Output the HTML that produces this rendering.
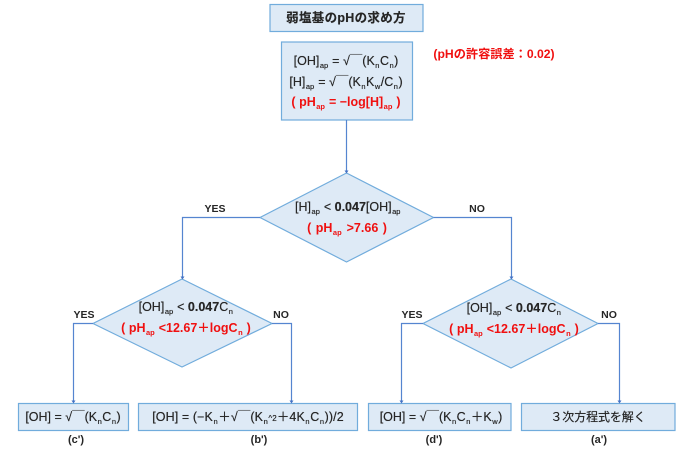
<!DOCTYPE html>
<html><head><meta charset="utf-8"><style>
html,body{margin:0;padding:0;background:#fff}
#p{position:relative;width:687px;height:453px;overflow:hidden;font-family:"Liberation Sans","Noto Sans CJK JP",sans-serif;color:#262626}
svg{position:absolute;left:0;top:0}
.t{position:absolute;white-space:nowrap;transform:translateX(-50%);font-size:12.5px;line-height:16px;text-shadow:0 0 .4px #333}
.r{color:#f01010;font-weight:bold;text-shadow:none}
.b{font-weight:bold;font-size:10.5px;text-shadow:none}
.l{font-size:11px}
i{font-style:normal;font-size:7.5px;position:relative;top:3px;margin:0 .5px}
</style></head><body><div id="p">
<svg width="687" height="453" viewBox="0 0 687 453">
<g fill="#deeaf6" stroke="#71acdc" stroke-width="1.2">
<rect x="270" y="4.5" width="153" height="27"/>
<rect x="281.5" y="42" width="131" height="78"/>
<polygon points="346.5,173 433.5,217.5 346.5,262 260,217.5"/>
<polygon points="182,279 272,323.5 182,367 93,323.5"/>
<polygon points="511,279 598,323.5 511,368 423,323.5"/>
<rect x="18.5" y="403.5" width="110" height="27"/>
<rect x="138.5" y="403.5" width="219" height="27"/>
<rect x="368.5" y="403.5" width="142.500" height="27"/>
<rect x="521.500" y="403.500" width="153.500" height="27"/>
</g>
<g fill="none" stroke="#5585d0" stroke-width="1.2">
<path d="M346.500 120V172"/>
<path d="M260 217.500H182.500V278"/>
<path d="M433.500 217.500H511.500V278"/>
<path d="M93 323.500H73.500V402"/>
<path d="M272 323.500H291.500V402"/>
<path d="M423 323.500H401.500V402"/>
<path d="M598 323.500H619.500V402"/>
</g>
<g fill="#4472c4">
<path d="M344.500 170.500h4l-2 3z"/><path d="M180.500 276.500h4l-2 3z"/><path d="M509.500 276.500h4l-2 3z"/>
<path d="M71.500 400.500h4l-2 3z"/><path d="M289.500 400.500h4l-2 3z"/><path d="M399.500 400.500h4l-2 3z"/><path d="M617.500 400.500h4l-2 3z"/>
</g>
</svg>
<div class="t" style="left:346px;top:10px;font-weight:bold;font-size:12.500px;letter-spacing:.3px">弱塩基のpHの求め方</div>
<div class="t" style="left:346px;top:53px">[OH]<i>ap</i> = √￣(K<i>n</i>C<i>n</i>)</div>
<div class="t" style="left:346px;top:74px">[H]<i>ap</i> = √￣(K<i>n</i>K<i>w</i>/C<i>n</i>)</div>
<div class="t r" style="left:346px;top:94px">( pH<i>ap</i> = −log[H]<i>ap</i> )</div>
<div class="t r" style="left:494px;top:46px;font-size:12.2px">(pHの許容誤差：0.02)</div>
<div class="t" style="left:348px;top:199px">[H]<i>ap</i> &lt; <b>0.047</b>[OH]<i>ap</i></div>
<div class="t r" style="left:347px;top:220px;word-spacing:1px">( pH<i>ap</i> &gt;7.66 )</div>
<div class="t b" style="left:215px;top:201px">YES</div>
<div class="t b" style="left:477px;top:201px">NO</div>
<div class="t" style="left:186px;top:299px">[OH]<i>ap</i> &lt; <b>0.047</b>C<i>n</i></div>
<div class="t r" style="left:186px;top:320px">( pH<i>ap</i> &lt;12.67＋logC<i>n</i> )</div>
<div class="t b" style="left:84px;top:307px">YES</div>
<div class="t b" style="left:281px;top:307px">NO</div>
<div class="t" style="left:514px;top:300px">[OH]<i>ap</i> &lt; <b>0.047</b>C<i>n</i></div>
<div class="t r" style="left:514px;top:321px">( pH<i>ap</i> &lt;12.67＋logC<i>n</i> )</div>
<div class="t b" style="left:412px;top:307px">YES</div>
<div class="t b" style="left:609px;top:307px">NO</div>
<div class="t" style="left:73px;top:409px">[OH] = √￣(K<i>n</i>C<i>n</i>)</div>
<div class="t" style="left:248px;top:409px;letter-spacing:.1px">[OH] = (−K<i>n</i>＋√￣(K<i>n</i><span style="font-size:8px">^2</span>＋4K<i>n</i>C<i>n</i>))/2</div>
<div class="t" style="left:441px;top:409px">[OH] = √￣(K<i>n</i>C<i>n</i>＋K<i>w</i>)</div>
<div class="t" style="left:598px;top:409px;font-size:12px;letter-spacing:-.1px">３次方程式を解く</div>
<div class="t b l" style="left:76px;top:432px">(c')</div>
<div class="t b l" style="left:259px;top:432px">(b')</div>
<div class="t b l" style="left:434px;top:432px">(d')</div>
<div class="t b l" style="left:599px;top:432px">(a')</div>
</div></body></html>
